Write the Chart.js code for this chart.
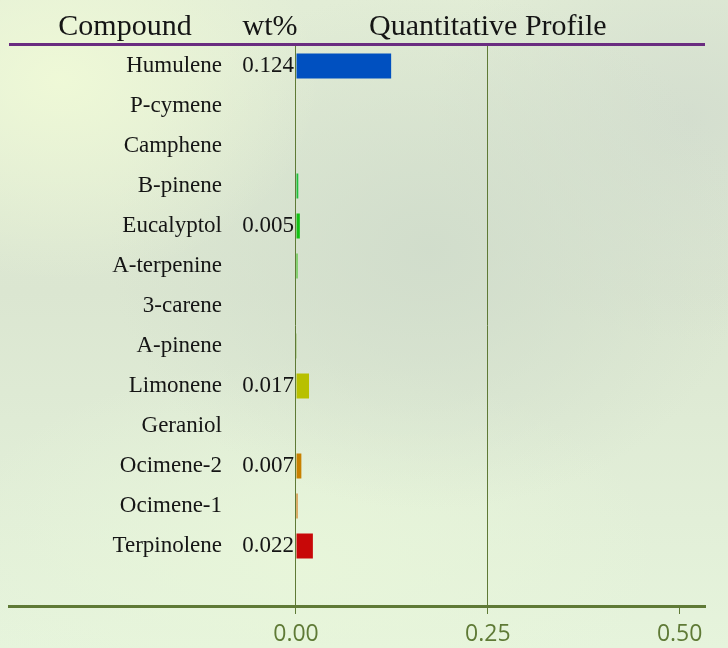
<!DOCTYPE html>
<html>
<head>
<meta charset="utf-8">
<script src="https://cdn.jsdelivr.net/npm/chart.js@4"></script>
<style>
  html, body { margin: 0; padding: 0; }
  body {
    width: 728px; height: 648px; overflow: hidden;
    background:
      radial-gradient(ellipse 260px 200px at 60px 80px, rgba(240, 250, 215, .9), rgba(240, 250, 215, 0)),
      radial-gradient(ellipse 320px 260px at 430px 250px, rgba(208, 220, 203, .9), rgba(208, 220, 203, 0)),
      radial-gradient(ellipse 260px 220px at 690px 120px, rgba(210, 220, 206, .85), rgba(210, 220, 206, 0)),
      radial-gradient(ellipse 360px 200px at 300px 560px, rgba(232, 246, 218, .9), rgba(232, 246, 218, 0)),
      linear-gradient(180deg, #e2edd6 0%, #dbe6d1 45%, #e6f4dc 100%);
  }
  canvas { display: block; }
</style>
</head>
<body>
<canvas id="chart" width="728" height="648"></canvas>
<script>
  // datos (wt%)
  const compuestos = ['Humulene', 'P-cymene', 'Camphene', 'B-pinene', 'Eucalyptol', 'A-terpenine',
    '3-carene', 'A-pinene', 'Limonene', 'Geraniol', 'Ocimene-2', 'Ocimene-1', 'Terpinolene'];
  const pesos = [0.124, 0, 0, 0.003, 0.005, 0.002, 0, 0.001, 0.017, 0, 0.007, 0.002, 0.022];
  const colores = ['#0050c0', '#1a6fd0', '#1a9ad0', '#1ec03c', '#12c012', '#3cc01e',
    '#50b01e', '#64a01e', '#b8c000', '#c8a000', '#c88000', '#d06c00', '#c80808'];
  const ticksX = [0, 0.25, 0.5];
  const encabezados = ['Compound', 'wt%', 'Quantitative Profile'];

  const verde = '#5f7a36';
  const morado = '#6a2c80';

  /* 
    =============== etiquetas y encabezado ===============
  */
  const etiquetas = {
    id: 'etiquetas',
    afterDraw(chart) {
      const { ctx, scales: { x, y }, chartArea } = chart;
      const x0 = x.getPixelForValue(0);

      ctx.save();
      ctx.fillStyle = '#151515';
      ctx.textBaseline = 'middle';
      ctx.font = '23px "Liberation Serif", "Times New Roman", serif';
      compuestos.forEach((nombre, i) => {
        const py = y.getPixelForValue(i);
        ctx.textAlign = 'right';
        ctx.fillText(nombre, x0 - 74, py);
        if (pesos[i] >= 0.005) ctx.fillText(pesos[i].toFixed(3), x0 - 2, py);
      });

      // encabezado
      ctx.font = '30px "Liberation Serif", "Times New Roman", serif';
      ctx.textBaseline = 'alphabetic';
      ctx.textAlign = 'center';
      ctx.fillText(encabezados[0], x0 - 171, 35);
      ctx.fillText(encabezados[1], x0 - 26, 35);
      ctx.fillText(encabezados[2], x.getPixelForValue(0.25), 35);

      // linea superior
      ctx.strokeStyle = morado;
      ctx.lineWidth = 3;
      ctx.beginPath();
      ctx.moveTo(chartArea.left, chartArea.top - 1.5);
      ctx.lineTo(chartArea.right, chartArea.top - 1.5);
      ctx.stroke();
      ctx.restore();
    }
  };

  new Chart(document.getElementById('chart'), {
    type: 'bar',
    data: {
      labels: [...compuestos, ''],
      datasets: [{
        data: [...pesos, null],
        backgroundColor: colores,
        borderWidth: 0,
        barPercentage: 0.625,
        categoryPercentage: 1
      }]
    },
    options: {
      indexAxis: 'y',
      responsive: false,
      animation: false,
      layout: { padding: { left: 9, right: 23, top: 46, bottom: 0 } },
      plugins: { legend: { display: false }, tooltip: { enabled: false } },
      scales: {
        x: {
          min: -0.374,
          max: 0.533,
          afterBuildTicks: (scale) => { scale.ticks = ticksX.map(v => ({ value: v })); },
          afterFit: (scale) => { scale.height = 42; },
          ticks: {
            color: verde,
            padding: 7,
            font: { family: '"Open Sans", sans-serif', size: 23 },
            callback: (v) => Number(v).toFixed(2)
          },
          grid: {
            color: (c) => (c.tick && c.tick.value === 0.5) ? 'rgba(0,0,0,0)' : verde,
            tickColor: verde,
            tickLength: 8,
            lineWidth: 1
          },
          border: { color: verde, width: 3 }
        },
        y: { display: false }
      }
    },
    plugins: [etiquetas]
  });
</script>
</body>
</html>
